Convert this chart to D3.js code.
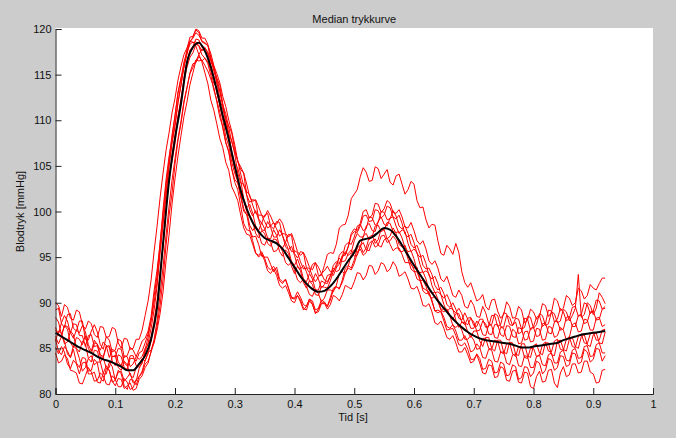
<!DOCTYPE html>
<html><head><meta charset="utf-8">
<script src="https://cdn.jsdelivr.net/npm/d3@7"></script>
<style>html,body{margin:0;padding:0;background:#cccccc;}svg{display:block;}</style>
</head><body>
<svg id="c" width="676" height="438"></svg>
<script>
// Individual beats sampled every 0.005 s, median every 0.01 s (0 .. 0.92 s)
const beatStep = 0.005;
const medianStep = 0.01;
const xTicks = [0,0.1,0.2,0.3,0.4,0.5,0.6,0.7,0.8,0.9,1];
const yTicks = [80,85,90,95,100,105,110,115,120];
const title = "Median trykkurve";
const xLabel = "Tid [s]";
const yLabel = "Blodtryk [mmHg]";

const median = [86.7,86.3,85.9,85.5,85.1,84.8,84.5,84.1,83.8,83.6,
83.3,83.0,82.6,82.6,83.3,84.2,86.0,89.5,96.5,103.3,
108.0,111.8,116.3,118.0,118.5,117.6,115.8,113.3,110.5,107.9,
105.0,102.3,100.3,98.8,97.8,97.1,96.8,96.5,95.9,94.9,
93.9,92.9,92.1,91.5,91.2,91.3,91.8,92.6,93.6,94.6,
95.5,96.8,97.0,97.2,97.7,98.2,98.0,97.3,96.3,95.2,
94.1,93.1,92.1,91.1,90.2,89.4,88.6,87.9,87.3,86.8,
86.4,86.1,85.9,85.8,85.7,85.6,85.5,85.3,85.1,85.1,
85.2,85.3,85.4,85.5,85.6,85.9,86.1,86.3,86.5,86.6,
86.7,86.8,86.9];

const beatA = [89.2,89.4,87.7,87.3,88.7,88.8,87.2,86.9,88.0,88.0,
86.0,85.9,86.9,87.6,86.8,85.4,84.9,86.3,85.9,84.6,
84.8,86.0,85.8,84.0,84.2,85.1,84.8,84.1,84.9,85.8,
86.1,86.9,88.5,91.3,93.6,96.4,100.2,103.5,106.0,108.0,
110.5,113.1,114.6,115.8,117.8,119.1,119.2,119.9,119.6,118.6,
118.4,118.2,116.7,115.4,114.6,113.8,111.8,110.1,109.4,108.6,
106.8,105.5,104.9,104.2,101.8,101.0,101.3,101.2,99.2,98.7,
99.6,99.8,98.4,98.1,98.9,98.8,97.3,96.6,97.5,97.4,
95.4,94.9,95.6,95.5,93.8,93.3,94.2,94.4,93.0,93.0,
94.1,95.3,95.5,95.4,96.4,98.2,98.5,98.6,99.6,101.4,
101.9,102.4,103.8,104.8,104.3,103.3,103.4,104.9,104.7,103.6,
104.1,104.6,103.2,102.9,103.9,104.1,103.0,101.9,102.4,103.3,
103.0,101.2,100.4,100.5,99.1,98.2,98.6,98.5,96.8,95.4,
95.2,96.3,95.9,95.3,96.5,95.5,93.4,92.2,91.7,92.2,
91.2,90.2,90.4,90.9,89.6,89.2,90.3,90.4,89.1,88.3,
88.7,90.1,89.6,88.3,88.4,89.6,89.2,87.8,88.1,89.3,
89.0,88.2,88.5,89.9,89.7,88.5,88.9,90.5,90.2,89.1,
89.4,90.8,90.5,89.7,90.0,91.6,91.3,90.4,90.8,92.0,
91.6,91.4,92.1,92.7,92.7];

const beatB = [87.0,86.6,87.8,88.6,88.0,86.7,86.1,87.0,86.7,87.5,
86.8,85.4,84.7,85.9,85.4,84.8,85.7,85.3,84.0,84.9,
84.7,83.5,83.1,84.2,84.1,83.0,83.3,84.1,83.8,84.1,
85.0,85.4,86.3,88.0,90.2,93.3,96.1,100.2,103.8,105.5,
107.5,110.3,112.4,114.3,115.8,116.9,117.4,118.3,118.2,117.6,
117.9,117.5,116.5,115.6,114.0,113.2,111.6,109.7,108.4,107.8,
106.3,104.2,103.1,103.0,101.8,100.2,99.5,100.1,99.1,98.0,
97.9,98.9,98.3,97.2,97.2,98.0,97.4,96.1,95.8,96.2,
95.2,94.0,93.7,94.1,93.4,92.4,92.3,93.2,92.6,91.6,
92.0,93.0,93.1,93.0,93.8,95.2,95.6,95.3,96.2,97.6,
98.1,97.9,98.7,100.0,100.2,99.3,99.6,100.9,100.8,99.9,
100.3,101.2,100.9,99.9,99.8,100.2,99.4,98.3,98.2,98.8,
97.9,96.8,96.4,96.8,95.9,94.6,94.2,94.6,93.8,92.6,
92.3,92.9,91.9,90.8,90.6,91.4,90.8,89.6,89.4,90.3,
89.7,88.5,88.4,89.6,88.9,87.7,87.6,88.8,88.6,87.4,
87.3,88.6,88.4,87.5,87.9,86.6,86.8,88.3,88.2,87.0,
87.4,88.4,88.6,87.4,87.7,89.2,89.1,87.9,88.2,89.4,
89.0,88.0,88.3,89.5,89.6,88.5,88.7,90.0,89.8,88.8,
89.1,90.3,90.2,89.3,89.6];

const beatC = [86.0,84.7,84.3,85.2,84.7,84.0,84.9,83.4,82.9,84.0,
83.9,82.5,82.6,83.8,83.4,81.7,81.4,82.8,82.6,81.3,
81.5,82.6,82.2,80.9,80.5,81.6,81.5,81.0,81.9,82.3,
83.3,83.6,84.6,85.7,87.4,89.7,92.6,96.3,99.5,102.0,
105.2,107.8,109.6,111.9,113.5,115.2,116.2,116.3,117.0,116.5,
116.8,116.4,115.4,114.0,113.6,111.6,110.4,109.6,108.0,106.0,
104.7,103.4,101.6,100.0,99.7,98.0,97.2,97.3,96.4,95.1,
95.0,95.0,94.2,93.4,93.9,92.6,92.3,92.5,91.6,90.5,
90.4,90.8,90.1,89.2,89.6,90.4,89.9,88.8,89.3,90.0,
90.0,89.3,89.8,90.8,90.6,90.2,90.9,91.9,91.7,91.5,
92.3,93.3,93.2,92.5,93.0,94.1,94.0,93.1,93.5,94.4,
94.2,93.4,93.7,94.5,94.0,92.9,93.1,93.4,92.6,91.6,
91.5,91.8,90.9,89.7,89.6,89.9,89.0,87.8,87.6,88.0,
87.2,86.2,86.0,86.4,85.6,84.6,84.6,85.1,84.3,83.4,
83.6,84.4,83.9,82.7,82.8,83.8,83.6,82.3,82.4,83.5,
83.3,82.0,82.1,83.2,83.0,81.6,81.8,83.0,82.9,81.9,
82.3,83.6,83.4,82.2,82.6,83.9,83.7,82.6,82.9,84.2,
84.1,83.0,83.2,84.5,84.4,83.3,83.5,84.9,84.6,83.5,
83.8,85.0,84.9,83.6,84.2];

const beatD = [85.8,86.9,86.7,85.5,85.7,86.9,86.5,85.0,84.6,85.8,
85.5,83.9,83.5,84.8,84.7,83.5,84.0,82.8,82.9,84.1,
84.2,82.9,82.6,83.6,83.2,82.0,81.8,82.9,83.0,83.4,
84.6,85.6,87.2,89.2,91.8,95.4,98.6,101.6,104.9,107.6,
109.6,112.0,113.8,115.9,117.4,118.6,119.1,120.0,119.8,119.0,
119.0,118.3,116.9,115.9,114.3,112.4,111.2,110.2,108.6,106.5,
105.2,104.8,103.4,101.4,100.4,100.8,99.8,98.4,97.9,98.8,
98.1,97.1,97.0,98.0,97.4,96.2,96.0,96.6,95.8,94.5,
94.1,94.8,93.9,92.6,92.3,93.2,92.6,91.4,91.4,92.4,
92.2,92.1,92.9,94.1,94.5,94.3,95.0,96.3,96.6,96.4,
97.2,98.4,98.6,97.9,98.1,99.4,99.3,98.5,98.8,100.0,
99.9,99.1,99.2,100.1,99.5,98.4,98.1,98.4,97.6,96.4,
96.0,96.3,95.4,94.1,93.7,93.8,93.1,91.9,91.4,91.7,
91.0,89.8,89.5,90.0,89.3,88.3,88.1,88.9,88.2,87.2,
87.2,88.0,87.6,86.5,86.4,87.6,87.5,86.2,86.1,87.3,
87.2,86.0,85.9,87.1,86.8,85.5,85.6,86.8,86.9,85.7,
85.8,87.2,87.1,85.9,86.0,87.4,87.3,86.2,86.4,87.3,
87.0,85.9,86.2,87.6,87.8,86.8,86.9,88.2,88.1,87.0,
87.0,88.3,88.4,87.4,87.6];

const beatE = [85.1,84.4,85.2,84.6,83.3,82.8,83.7,83.3,82.2,83.4,
83.5,82.2,82.2,82.4,81.3,81.2,82.3,83.1,82.6,81.4,
80.9,81.7,81.6,80.6,80.9,81.2,80.4,80.6,81.6,82.0,
82.9,83.4,84.7,86.0,88.0,90.9,93.9,97.4,100.5,103.4,
105.8,108.0,109.9,112.1,113.6,115.1,115.8,116.6,116.5,116.6,
116.0,115.4,114.5,113.6,112.0,110.3,109.3,107.6,106.5,104.6,
103.2,102.4,100.6,98.7,98.0,97.9,96.8,95.5,95.0,95.4,
94.6,93.5,93.2,93.7,93.0,91.9,91.6,91.9,91.1,90.2,
90.0,90.8,90.3,89.4,89.2,90.2,89.8,88.9,89.0,89.9,
89.9,89.6,90.6,91.6,91.8,91.5,92.5,93.8,94.1,93.8,
94.7,96.0,96.3,95.5,96.0,97.2,97.4,96.5,96.9,98.1,
98.0,97.0,97.3,98.2,97.6,96.4,96.1,96.3,95.3,94.2,
93.8,93.9,92.6,91.6,91.4,91.2,90.1,89.1,89.2,89.0,
88.0,87.0,87.1,87.2,86.4,85.4,85.3,85.6,84.9,83.8,
83.8,84.3,83.4,82.3,82.2,83.2,83.1,81.8,81.9,83.0,
82.8,81.5,81.4,82.5,82.6,81.3,81.2,82.4,82.3,80.8,
80.6,81.9,82.5,81.3,81.4,82.6,82.7,81.2,80.7,82.3,
83.0,81.9,82.1,83.3,83.3,82.3,82.4,83.6,83.6,82.4,
82.2,81.2,81.3,82.6,82.7];

const beatF = [90.0,89.7,88.5,89.8,89.5,88.3,88.1,89.2,89.0,87.6,
87.1,88.0,87.7,86.5,86.2,87.4,87.3,86.2,86.3,87.3,
87.1,85.6,85.0,86.1,86.0,84.9,85.0,86.0,86.0,87.0,
88.6,90.2,92.5,95.6,98.4,101.5,104.2,106.7,108.6,110.8,
112.4,114.4,115.9,117.2,117.9,118.7,118.5,118.6,118.1,117.2,
116.8,116.2,114.9,113.3,112.2,110.9,109.1,107.5,106.6,104.7,
103.5,103.1,101.9,100.3,99.6,99.6,98.9,97.6,97.1,97.9,
97.6,96.5,96.2,97.0,96.9,95.6,95.1,95.8,95.4,94.0,
93.2,94.0,93.5,92.2,91.6,92.4,92.0,90.9,90.8,91.8,
91.7,91.6,92.4,93.5,93.9,94.2,95.2,95.2,96.1,97.4,
97.8,97.7,98.4,99.5,99.6,98.9,99.0,100.2,100.1,99.3,
99.6,100.6,100.4,99.4,99.2,99.6,98.7,97.5,97.2,97.5,
96.6,95.4,95.0,95.2,94.3,93.0,92.6,92.9,92.1,90.9,
90.5,90.9,90.2,89.2,88.9,89.4,88.8,87.8,87.6,88.3,
87.9,86.9,87.0,88.0,87.7,86.6,86.5,87.6,87.6,86.5,
86.3,87.5,87.4,86.3,86.2,87.3,87.1,85.9,86.0,87.2,
87.3,86.3,86.4,87.7,87.8,86.7,86.6,87.9,88.0,87.0,
87.1,88.4,88.5,87.4,87.4,88.6,88.7,87.7,87.9,89.0,
89.1,88.1,88.2,89.3,89.4];

const beatG = [86.3,85.5,86.3,85.8,84.4,84.0,85.3,84.9,83.9,82.5,
82.9,83.9,84.2,83.2,83.5,83.5,82.2,82.2,83.5,83.0,
81.5,82.4,82.5,81.4,81.8,82.3,81.2,81.4,82.8,83.4,
84.9,86.2,88.1,90.7,93.0,96.6,99.8,102.9,105.6,108.4,
110.5,112.9,114.6,116.4,117.5,118.3,118.6,118.1,117.2,116.4,
115.2,114.0,112.2,111.1,109.6,108.0,107.0,105.4,104.5,102.7,
102.0,101.2,99.6,98.2,97.5,97.4,96.4,95.4,95.2,95.6,
94.9,93.9,93.6,94.0,93.4,92.4,92.1,92.6,91.6,90.6,
90.5,91.2,90.6,89.8,89.6,90.4,90.2,89.2,89.4,90.3,
90.1,89.6,90.3,91.4,91.7,91.6,92.2,93.3,93.8,93.6,
94.3,95.4,95.9,95.2,95.5,96.5,96.8,96.1,96.3,97.3,
97.4,96.6,96.8,97.3,96.9,95.7,95.6,95.8,94.8,93.7,
93.4,93.4,92.5,91.3,91.0,91.1,90.3,89.1,88.9,89.1,
88.4,87.4,87.2,87.6,86.9,85.9,85.9,86.4,85.7,84.6,
84.8,85.5,85.1,84.0,83.9,84.9,84.8,83.6,83.5,84.6,
84.6,83.4,83.2,84.3,84.4,83.1,83.0,84.2,84.1,82.9,
82.9,84.1,84.3,83.2,83.1,84.3,84.5,83.4,83.4,84.6,
84.8,83.7,83.6,84.8,85.0,83.9,84.0,85.2,85.3,84.1,
84.2,85.4,85.6,84.5,84.5];

const beatH = [87.3,86.4,86.3,87.5,87.4,86.7,87.7,87.6,86.4,86.4,
85.2,86.4,86.5,85.2,85.3,84.1,84.0,85.2,85.3,84.1,
84.1,85.0,84.9,83.4,83.1,84.2,84.2,83.1,83.2,83.9,
83.6,84.6,84.8,85.6,87.0,88.8,91.2,94.6,97.4,100.8,
103.6,106.1,108.3,110.4,112.0,113.9,115.2,116.5,117.2,117.8,
117.6,117.3,116.6,115.8,114.6,113.2,111.7,110.7,109.2,107.6,
106.5,105.6,104.1,102.8,102.2,101.8,100.7,99.8,99.6,99.6,
98.9,98.2,98.4,98.8,98.1,97.3,97.6,97.5,96.4,95.6,
95.7,95.5,94.5,93.7,93.8,93.8,92.9,92.3,92.8,93.2,
92.5,92.3,93.0,93.8,93.4,93.6,94.9,95.6,95.2,95.5,
96.8,97.6,97.2,97.2,98.4,98.7,97.9,97.8,98.9,99.4,
98.6,98.4,99.3,99.4,98.4,97.6,98.0,97.8,96.5,95.6,
95.9,95.5,94.2,93.3,93.5,93.2,91.9,91.1,91.2,90.9,
89.8,89.0,89.4,89.3,88.1,87.3,87.9,87.8,86.8,86.2,
86.9,86.9,85.8,85.2,86.2,86.2,85.0,84.7,85.9,85.9,
84.6,84.4,85.7,85.6,84.4,84.2,85.5,85.5,84.2,84.0,
85.3,85.5,84.5,84.3,85.6,85.6,84.3,84.2,85.8,85.9,
84.9,84.7,86.0,86.2,85.2,85.0,86.3,86.5,85.4,85.2,
86.5,86.7,85.6,85.5,86.8];

const beatI = [84.5,83.4,83.6,84.3,83.9,82.6,82.5,82.3,81.2,81.1,
82.0,82.9,82.4,81.4,81.5,82.3,82.0,81.1,81.0,82.0,
81.6,80.8,80.8,81.7,81.3,80.5,80.7,81.6,81.9,82.5,
83.7,84.4,85.8,87.5,89.7,93.0,96.2,100.1,103.6,106.2,
108.3,110.5,112.0,114.6,116.5,117.7,118.1,118.9,118.8,118.0,
118.0,117.3,116.0,114.8,113.0,111.7,110.0,108.2,107.2,105.4,
104.2,103.3,101.5,101.3,100.0,98.5,97.9,98.4,97.6,96.5,
96.3,97.1,96.6,95.6,95.7,96.3,95.6,94.4,94.1,94.5,
93.6,92.5,92.2,92.6,91.8,90.9,90.7,91.5,91.0,90.1,
90.5,91.4,91.4,91.2,91.9,93.2,93.4,93.2,94.0,95.3,
95.8,95.5,96.1,97.3,97.6,96.9,97.2,98.4,98.5,97.8,
98.0,98.8,98.7,97.8,97.7,97.8,97.1,96.0,95.6,95.7,
94.8,93.6,93.3,93.4,92.6,91.4,91.0,91.2,90.4,89.2,
89.0,89.3,88.6,87.5,87.3,87.6,87.0,86.0,86.0,86.4,
85.9,84.9,85.0,86.1,86.1,85.0,84.9,85.9,85.8,84.6,
84.4,85.5,85.6,84.4,84.1,85.2,85.2,84.0,83.9,85.0,
85.0,84.1,84.2,85.4,85.7,84.7,84.6,85.8,86.0,84.9,
84.8,86.0,86.3,85.2,85.1,86.3,86.6,85.6,85.5,86.6,
86.8,85.9,85.9,87.0,87.1];

const beatJ = [88.4,87.9,86.5,87.5,87.1,85.6,85.1,86.2,86.0,85.4,
86.4,85.0,84.4,85.6,85.5,84.3,84.1,85.3,85.1,83.6,
83.1,84.3,84.1,82.9,82.7,83.9,83.9,83.6,84.5,84.7,
85.6,86.6,88.0,90.0,92.3,95.8,98.9,102.2,105.1,107.5,
109.3,111.9,113.9,115.9,117.2,118.6,119.0,119.6,119.3,118.7,
118.5,118.2,117.3,116.0,115.1,114.1,112.6,111.5,110.0,108.8,
107.3,105.5,104.6,104.2,103.0,101.6,101.1,101.3,100.5,99.6,
99.4,100.1,99.5,98.7,98.6,99.2,98.7,97.6,97.2,97.6,
96.7,95.6,95.2,95.5,94.8,93.9,93.6,94.4,93.9,93.2,
93.5,94.0,93.4,93.4,94.2,94.9,94.5,94.6,95.4,95.8,
95.1,95.2,96.2,96.6,95.8,95.7,96.7,97.0,96.3,96.1,
96.9,97.1,96.4,95.7,96.0,96.0,95.3,94.4,94.4,94.3,
93.6,92.6,92.4,92.5,91.8,90.8,90.5,90.7,90.1,89.3,
89.3,89.3,88.6,88.2,88.8,88.8,87.9,87.6,88.3,88.4,
87.5,87.4,88.2,88.2,87.3,87.4,88.6,88.6,87.4,87.6,
88.9,88.8,87.6,87.5,88.3,88.2,87.1,87.3,88.5,88.4,
87.2,87.6,88.8,88.6,87.5,87.7,89.0,88.8,87.8,88.0,
89.3,89.0,88.0,88.6,89.4,93.1,88.4,88.7,90.0,89.7,
88.7,89.4,91.1,90.6,89.9];

const beats = [beatA,beatB,beatC,beatD,beatE,beatF,beatG,beatH,beatI,beatJ];

const svg = d3.select("#c");
const W = 676, H = 438;
const x0 = 55.5, x1 = 653, yTop = 29, yBot = 394;
svg.append("rect").attr("width",W).attr("height",H).attr("fill","#cccccc");
svg.append("rect").attr("x",x0).attr("y",yTop-1).attr("width",x1-x0).attr("height",yBot-yTop+1).attr("fill","#ffffff");

const x = d3.scaleLinear().domain([0,1]).range([x0,x1]);
const y = d3.scaleLinear().domain([80,120]).range([yBot,yTop]);

const beatLine = d3.line().x((d,i)=>x(i*beatStep)).y(d=>y(d));
const medLine = d3.line().x((d,i)=>x(i*medianStep)).y(d=>y(d)).curve(d3.curveMonotoneX);

const plot = svg.append("g");
beats.forEach(b=>{
  plot.append("path").attr("d",beatLine(b)).attr("fill","none")
    .attr("stroke","#ff0000").attr("stroke-width",1).attr("stroke-linejoin","round");
});
plot.append("path").attr("d",medLine(median)).attr("fill","none")
  .attr("stroke","#000000").attr("stroke-width",2).attr("stroke-linejoin","round");

const font = "Liberation Sans, Arial, sans-serif";
const xAxis = d3.axisBottom(x).tickValues(xTicks).tickSize(-6).tickPadding(6).tickFormat(d3.format("~g"));
const gx = svg.append("g").attr("transform",`translate(0,${yBot})`).call(xAxis);
const yAxis = d3.axisLeft(y).tickValues(yTicks).tickSize(-6).tickPadding(4);
const gy = svg.append("g").attr("transform",`translate(${x0},0)`).call(yAxis);
[gx,gy].forEach(g=>{
  g.select(".domain").attr("stroke","#222").attr("stroke-width",1);
  g.selectAll(".tick line").attr("stroke","#222");
  g.selectAll("text").attr("fill","#111").style("font-family",font).style("font-size","11px");
});

svg.append("text").attr("x",(x0+x1)/2).attr("y",23).attr("text-anchor","middle")
  .style("font-family",font).style("font-size","11px").attr("fill","#111").text(title);
svg.append("text").attr("x",353).attr("y",421).attr("text-anchor","middle")
  .style("font-family",font).style("font-size","11px").attr("fill","#111").text(xLabel);
svg.append("text").attr("transform",`translate(24,${(yTop+yBot)/2}) rotate(-90)`).attr("text-anchor","middle")
  .style("font-family",font).style("font-size","11px").attr("fill","#111").text(yLabel);
</script>
</body></html>
